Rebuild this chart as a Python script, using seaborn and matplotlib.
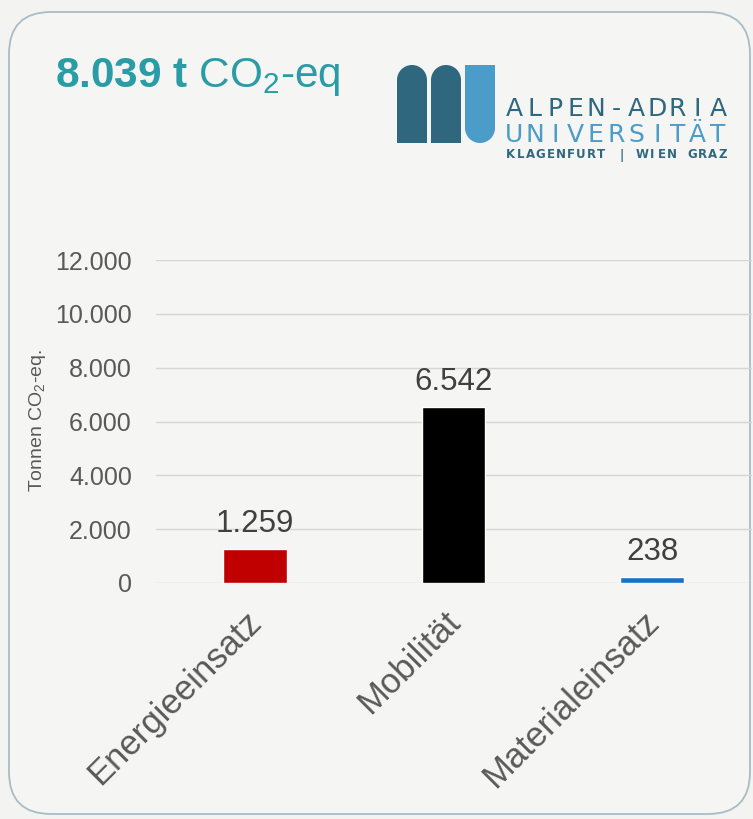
import matplotlib
matplotlib.use("Agg")
import matplotlib.pyplot as plt
import matplotlib.transforms as mtransforms
from matplotlib.patches import Rectangle, Circle, FancyBboxPatch
import seaborn as sns
import pandas as pd

# Emissions per area (tonnes CO2-eq)
categories = ["Energieeinsatz", "Mobilität", "Materialeinsatz"]
values = [1259, 6542, 238]
bar_colors = ["#c00000", "#000000", "#1a72c4"]
y_ticks = [0, 2000, 4000, 6000, 8000, 10000, 12000]
total = 8039

def de_num(v):
    return f"{v:,}".replace(",", ".")

sns.set_theme(style="white")
plt.rcParams["font.family"] = ["Liberation Sans", "DejaVu Sans"]
plt.rcParams["mathtext.fontset"] = "custom"
plt.rcParams["mathtext.rm"] = "Liberation Sans"
plt.rcParams["mathtext.bf"] = "Liberation Sans:bold"
plt.rcParams["mathtext.it"] = "Liberation Sans:italic"

W, H = 753, 819
fig = plt.figure(figsize=(W / 100, H / 100), dpi=100)
fig.patch.set_facecolor("#f3f3f1")

# Background layer in pixel coordinates: rounded card and logo
bg = fig.add_axes([0, 0, 1, 1], zorder=0)
bg.set_xlim(0, W)
bg.set_ylim(H, 0)
bg.axis("off")
card = FancyBboxPatch((9, 12), 741, 802, boxstyle="round,pad=0,rounding_size=42",
                      facecolor="#f5f5f3", edgecolor="#a9bcc6", linewidth=1.3)
bg.add_patch(card)

dark, light = "#2f687e", "#4b9cc8"
for x0 in (397, 431):
    bg.add_patch(Rectangle((x0, 80), 30, 63, facecolor=dark, edgecolor="none"))
    bg.add_patch(Circle((x0 + 15, 80), 15, facecolor=dark, edgecolor="none"))
bg.add_patch(Rectangle((465, 65), 30, 63, facecolor=light, edgecolor="none"))
bg.add_patch(Circle((480, 128), 15, facecolor=light, edgecolor="none"))

def spaced(text, x0, x1, y, **kw):
    n = len(text)
    step = (x1 - x0) / (n - 1)
    for i, ch in enumerate(text):
        bg.text(x0 + i * step, y, ch, ha="center", va="baseline", **kw)

spaced("ALPEN-ADRIA", 514, 718, 116, color=dark, fontsize=18,
       family="DejaVu Sans", fontweight="normal")
spaced("UNIVERSITÄT", 514, 718, 142, color=light, fontsize=18,
       family="DejaVu Sans", fontweight="normal")
spaced("KLAGENFURT | WIEN GRAZ", 510, 723, 158.5, color=dark, fontsize=8.5,
       family="DejaVu Sans", fontweight="bold")

# Headline total
bg.text(55, 87, r"$\mathbf{" + de_num(total) + r"\ t}$ CO$_2$-eq",
        color="#2a9ca6", fontsize=30.5, va="baseline", ha="left")

# Bar chart
x_left, x_right = 155.5, 751.5
y_top, y_bot = 260, 583
ax = fig.add_axes([x_left / W, 1 - y_bot / H, (x_right - x_left) / W, (y_bot - y_top) / H],
                  zorder=2)
ax.set_facecolor("none")

df = pd.DataFrame({"Kategorie": categories, "Wert": values})
sns.barplot(data=df, x="Kategorie", y="Wert", hue="Kategorie", palette=bar_colors,
            width=0.32, legend=False, ax=ax, saturation=1, zorder=3)

ax.set_xlim(-0.5, 2.5)
ax.set_ylim(0, 12000)
ax.set_yticks(y_ticks)
ax.set_yticklabels([de_num(v) for v in y_ticks])
ax.yaxis.grid(True, color="#d6d6d6", linewidth=1)
ax.set_axisbelow(True)
for s in ax.spines.values():
    s.set_visible(False)
ax.tick_params(axis="y", length=0, pad=17, labelsize=18, labelcolor="#595959")
ax.tick_params(axis="x", length=0, pad=16, labelsize=25, labelcolor="#595959")
shift = mtransforms.ScaledTranslation(-10 / 100, 0, fig.dpi_scale_trans)
for lab in ax.get_xticklabels():
    lab.set_rotation(45)
    lab.set_ha("right")
    lab.set_rotation_mode("anchor")
    lab.set_transform(lab.get_transform() + shift)
ax.set_xlabel("")
ax.set_ylabel("")

for cont in ax.containers:
    ax.bar_label(cont, labels=[de_num(int(round(b.get_height()))) for b in cont],
                 padding=7, fontsize=22.5, color="#404040")

fig.text(37 / W, 1 - 421 / H, "Tonnen CO$_2$-eq.", rotation=90, ha="center", va="center",
         fontsize=14, color="#595959")

fig.savefig("out.png", dpi=100, facecolor=fig.get_facecolor())
